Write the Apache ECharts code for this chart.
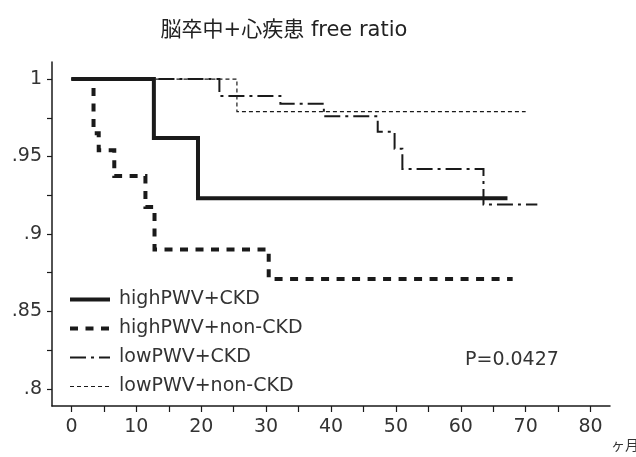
<!DOCTYPE html>
<html><head><meta charset="utf-8">
<script src="https://cdn.jsdelivr.net/npm/echarts@6/dist/echarts.min.js"></script>
<style>html,body{margin:0;padding:0;background:#fff}#c{width:636px;height:457px}</style>
</head><body><div id="c"></div>
<script>
const chartTitle = '脳卒中+心疾患 free ratio';
const seriesNames = ['highPWV+CKD', 'highPWV+non-CKD', 'lowPWV+CKD', 'lowPWV+non-CKD'];
// Kaplan-Meier steps: month of each event, survival ratio after it (last point = end of follow-up)
const highCkdMonths = [0, 12.7, 19.5, 67.2];
const highCkdRatio  = [1, 0.962, 0.923, 0.923];
const highNonMonths = [0, 3.4, 4.2, 6.6, 11.4, 12.8, 30.4, 68.0];
const highNonRatio  = [1, 0.965, 0.954, 0.9375, 0.9175, 0.890, 0.871, 0.871];
const lowCkdMonths  = [0, 22.8, 32.2, 38.9, 47.2, 49.8, 51.0, 63.5, 71.8];
const lowCkdRatio   = [1, 0.989, 0.984, 0.976, 0.966, 0.955, 0.942, 0.919, 0.919];
const lowNonMonths  = [0, 25.5, 70.0];
const lowNonRatio   = [1, 0.979, 0.979];
const xTickValues  = [0, 5, 10, 15, 20, 25, 30, 35, 40, 45, 50, 55, 60, 65, 70, 75, 80];
const xLabelValues = [0, 10, 20, 30, 40, 50, 60, 70, 80];
const yTickValues  = [0.8, 0.825, 0.85, 0.875, 0.9, 0.925, 0.95, 0.975, 1];
const yLabelValues = [0.8, 0.85, 0.9, 0.95, 1];
const pValueText = 'P=0.0427';
const unitText = 'ヶ月';

const ink = '#1a1a1a';
const txt = '#333';
const font = 'DejaVu Sans';
const styles = [
  { width: 4, type: 'solid' },
  { width: 4, type: [8, 7.5] },
  { width: 2, type: [16, 5, 3, 5] },
  { width: 1.2, type: [4, 3] }
];
const dataSets = [
  [highCkdMonths, highCkdRatio],
  [highNonMonths, highNonRatio],
  [lowCkdMonths, lowCkdRatio],
  [lowNonMonths, lowNonRatio]
];
const zip = (a, b) => a.map((v, i) => [v, b[i]]);
const fmtY = v => String(+v.toFixed(3)).replace(/^0(?=\.)/, '');

const chart = echarts.init(document.getElementById('c'), null, { renderer: 'canvas' });
chart.setOption({
  animation: false,
  backgroundColor: '#fff',
  title: {
    text: chartTitle, left: 279, top: 15, textAlign: 'center',
    textStyle: { fontFamily: font + ', Noto Sans CJK JP', fontSize: 21, fontWeight: 'normal', color: '#222' }
  },
  grid: { left: 52, right: 26, top: 62, bottom: 51, containLabel: false },
  xAxis: {
    type: 'value', min: -3, max: 83,
    axisLine: { show: true, onZero: false, lineStyle: { color: ink, width: 1.5 } },
    axisTick: { show: true, length: 6, customValues: xTickValues, lineStyle: { color: ink, width: 1.2 } },
    axisLabel: { customValues: xLabelValues, margin: 12, fontFamily: font, fontSize: 19, color: txt },
    splitLine: { show: false }
  },
  yAxis: {
    type: 'value', min: 0.789, max: 1.011,
    axisLine: { show: true, onZero: false, lineStyle: { color: ink, width: 1.5 } },
    axisTick: { show: true, length: 5, customValues: yTickValues, lineStyle: { color: ink, width: 1.2 } },
    axisLabel: { customValues: yLabelValues, margin: 10, fontFamily: font, fontSize: 19, color: txt, formatter: fmtY },
    splitLine: { show: false }
  },
  legend: {
    orient: 'vertical', left: 63, top: 285, itemWidth: 40, itemHeight: 14, itemGap: 10,
    textStyle: { fontFamily: font, fontSize: 19, color: txt, padding: [0, 0, 0, 4] },
    data: seriesNames.map((n, i) => ({
      name: n,
      itemStyle: { color: 'rgba(0,0,0,0)', borderColor: 'rgba(0,0,0,0)', borderWidth: 0, opacity: 0 },
      lineStyle: { width: styles[i].width, type: styles[i].type, color: ink }
    }))
  },
  graphic: [
    { type: 'text', left: 465, top: 351, style: { text: pValueText, font: '19px ' + font, fill: txt } },
    { type: 'text', left: 611, top: 438, style: { text: unitText, font: '14px Noto Sans CJK JP', fill: txt } }
  ],
  series: dataSets.map((d, i) => ({
    name: seriesNames[i], type: 'line', step: 'end', symbol: 'none', z: 10 - i,
    lineStyle: { color: ink, width: styles[i].width, type: styles[i].type, cap: 'butt', join: 'miter' },
    itemStyle: { color: ink },
    data: zip(d[0], d[1])
  }))
});
</script></body></html>
